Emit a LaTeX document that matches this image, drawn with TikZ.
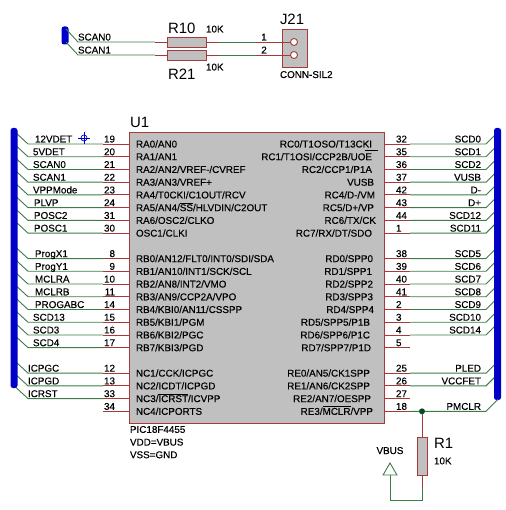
\documentclass[tikz,border=0pt]{standalone}
\usepackage{amsmath,amssymb}
\usepackage{fontspec}
\setmainfont{Liberation Sans}
\newfontfamily\pinfont[FakeBold=0.25]{Liberation Sans}
\usetikzlibrary{positioning,calc,shapes.geometric}
\definecolor{PinRed}{HTML}{A53A3A}
\definecolor{NetGreen}{HTML}{3C7C46}
\definecolor{JctGreen}{HTML}{0A4A20}
\definecolor{BusBlue}{HTML}{0000C8}
\definecolor{Body}{HTML}{C0C0C0}
\newcommand{\ovl}[1]{$\overline{\mbox{#1}}$}

\begin{document}
\begin{tikzpicture}[x=1bp, y=-1bp,
  small/.style={inner sep=0pt, outer sep=0pt, text height=7bp, text depth=0pt, font=\pinfont\fontsize{9.9}{11}\selectfont},
  large/.style={inner sep=0pt, outer sep=0pt, text height=10.5bp, text depth=0pt, font=\fontsize{15}{17}\selectfont},
  part/.style={draw=PinRed, fill=Body, line width=0.9pt, inner sep=0pt, outer sep=0pt},
  bus/.style={fill=BusBlue, rounded corners=2.5bp, inner sep=0pt, outer sep=0pt, minimum width=7bp},
  pin/.style={draw=PinRed, line width=0.9pt},
  net/.style={draw=NetGreen, line width=0.9pt} ]

\useasboundingbox (0,0) rectangle (506,510);

\node[part, minimum width=255bp, minimum height=291bp] (U1) at (256.5,277.5) {};
\node[large, anchor=south west] (U1lab) at ($(U1.north west)+(1,-4)$) {U1};
\node[inner sep=0pt, outer sep=0pt, anchor=north west, align=left, font=\pinfont\fontsize{9.9}{12.7}\selectfont] (U1info) at ($(U1.south west)+(1,3)$) {PIC18F4455\\VDD=VBUS\\VSS=GND};

\foreach \k/\num/\nx/\netlab/\lab in {
  0/19/7/12VDET/{RA0/AN0}, 1/20/5/5VDET/{RA1/AN1}, 2/21/5/SCAN0/{RA2/AN2/VREF-/CVREF}, 3/22/5/SCAN1/{RA3/AN3/VREF+},
  4/23/5/VPPMode/{RA4/T0CKI/C1OUT/RCV}, 5/24/6/PLVP/{RA5/AN4/\ovl{SS}/HLVDIN/C2OUT}, 6/31/6/POSC2/{RA6/OSC2/CLKO}, 7/30/6/POSC1/{OSC1/CLKI},
  9/8/7/ProgX1/{RB0/AN12/FLT0/INT0/SDI/SDA}, 10/9/7/ProgY1/{RB1/AN10/INT1/SCK/SCL}, 11/10/7/MCLRA/{RB2/AN8/INT2/VMO}, 12/11/7/MCLRB/{RB3/AN9/CCP2A/VPO},
  13/14/7/PROGABC/{RB4/KBI0/AN11/CSSPP}, 14/15/5/SCD13/{RB5/KBI1/PGM}, 15/16/5/SCD3/{RB6/KBI2/PGC}, 16/17/5/SCD4/{RB7/KBI3/PGD},
  18/12/0/ICPGC/{NC1/CCK/ICPGC}, 19/13/0/ICPGD/{NC2/ICDT/ICPGD}, 20/33/0/ICRST/{NC3/\ovl{ICRST}/ICVPP}} {
  \coordinate (la\k) at ($(U1.north west)+(0,12+\k*12.73)$);
  \coordinate (lb\k) at ($(la\k)+(-26,0)$);
  \coordinate (lc\k) at ($(la\k)+(-101,0)$);
  \coordinate (ld\k) at ($(lc\k)+(-13,-12)$);
  \draw[pin] (la\k) -- (lb\k);
  \draw[net] (lb\k) -- (lc\k) -- (ld\k);
  \node[small, anchor=south east] (lnum\k) at ($(lb\k)+(12,-1.5)$) {\num};
  \node[small, anchor=south west] (lnet\k) at ($(lc\k)+(\nx,-1.5)$) {\netlab};
  \node[small, anchor=west] (llab\k) at ($(la\k)+(7,0)$) {\lab};
}
\coordinate (la21) at ($(U1.north west)+(0,12+21*12.73)$);
\coordinate (lb21) at ($(la21)+(-26,0)$);
\draw[pin] (la21) -- (lb21);
\node[small, anchor=south east] (lnum21) at ($(lb21)+(12,-1.5)$) {34};
\node[small, anchor=west] (llab21) at ($(la21)+(7,0)$) {NC4/ICPORTS};

\foreach \k/\num/\netlab/\lab/\ex in {
  0/32/SCD0/{RC0/T1OSO/T13CKI}/12, 1/35/SCD1/{RC1/T1OSI/CCP2B/UOE}/12, 2/36/SCD2/{RC2/CCP1/P1A}/12, 3/37/VUSB/VUSB/10,
  4/42/D-/{RC4/D-/VM}/9, 5/43/D+/{RC5/D+/VP}/10, 6/44/SCD12/{RC6/TX/CK}/8, 7/1/SCD11/{RC7/RX/DT/SDO}/12,
  9/38/SCD5/{RD0/SPP0}/11, 10/39/SCD6/{RD1/SPP1}/12, 11/40/SCD7/{RD2/SPP2}/11, 12/41/SCD8/{RD3/SPP3}/11,
  13/2/SCD9/{RD4/SPP4}/10, 14/3/SCD10/{RD5/SPP5/P1B}/14, 15/4/SCD14/{RD6/SPP6/P1C}/14,
  18/25/PLED/{RE0/AN5/CK1SPP}/14, 19/26/VCCFET/{RE1/AN6/CK2SPP}/14} {
  \coordinate (ra\k) at ($(U1.north east)+(0,12+\k*12.73)$);
  \coordinate (rb\k) at ($(ra\k)+(26,0)$);
  \coordinate (rc\k) at ($(ra\k)+(102,0)$);
  \coordinate (rd\k) at ($(rc\k)+(12,-12)$);
  \draw[pin] (ra\k) -- (rb\k);
  \draw[net] (rb\k) -- (rc\k) -- (rd\k);
  \node[small, anchor=south west] (rnum\k) at ($(rb\k)+(-14,-1.5)$) {\num};
  \node[small, anchor=south east] (rnet\k) at ($(rc\k)+(-5,-1.5)$) {\netlab};
  \node[small, anchor=east] (rlab\k) at ($(ra\k)+(-\ex,0)$) {\lab};
}
\foreach \k/\num/\lab/\ex in {16/5/{RD7/SPP7/P1D}/13, 20/27/{RE2/AN7/OESPP}/13, 21/18/{RE3/\ovl{MCLR}/VPP}/11} {
  \coordinate (ra\k) at ($(U1.north east)+(0,12+\k*12.73)$);
  \coordinate (rb\k) at ($(ra\k)+(26,0)$);
  \draw[pin] (ra\k) -- (rb\k);
  \node[small, anchor=south west] (rnum\k) at ($(rb\k)+(-14,-1.5)$) {\num};
  \node[small, anchor=east] (rlab\k) at ($(ra\k)+(-\ex,0)$) {\lab};
}
\draw[line width=0.6pt] ($(U1.north east)+(-19,18)$) coordinate (uoea) -- ($(U1.north east)+(-6,18)$) coordinate (uoeb);

\node[bus, minimum height=260bp] (lbus) at (14,258) {};
\node[bus, minimum height=272bp] (rbus) at (497.5,264) {};

\coordinate (rc21) at ($(ra21)+(102,0)$);
\coordinate (rd21) at ($(rc21)+(12,-12)$);
\node[circle, fill=JctGreen, minimum size=6bp, inner sep=0pt, outer sep=0pt] (jct) at ($(ra21)+(38,0)$) {};
\draw[net] (rb21) -- (jct) -- (rc21) -- (rd21);
\node[small, anchor=south east] (rnet21) at ($(rc21)+(-5,-1.5)$) {PMCLR};

\node[part, minimum width=10bp, minimum height=38bp, below=23bp of jct] (R1) {};
\node[large, anchor=north west] (R1lab) at ($(R1.north east)+(7,1)$) {R1};
\node[small, anchor=north west] (R1val) at ($(R1.north east)+(7,20)$) {10K};
\coordinate (R1end) at ($(R1.south)+(0,13)$);
\node[regular polygon, regular polygon sides=3, draw=NetGreen, line width=0.9pt, minimum size=16bp, inner sep=0pt, outer sep=0pt] (vbus) at (390,471) {};
\node[small, above=9bp of vbus] (vbuslab) {VBUS};
\draw[pin] (jct) -- (R1.north);
\draw[pin] (R1.south) -- (R1end);
\draw[net] (R1end) |- ($(R1end)+(-16,12)$) -| (vbus.south);

\node[bus, minimum height=18bp] (sbus) at (65,35.5) {};
\node[part, minimum width=39bp, minimum height=10bp] (R10) at (186.5,42) {};
\node[part, minimum width=39bp, minimum height=10bp] (R21) at (186.5,55) {};
\node[part, minimum width=25bp, minimum height=38bp] (J21) at (294.5,48) {};
\node[circle, draw=PinRed, fill=white, line width=0.9pt, minimum size=7bp, inner sep=0pt, outer sep=0pt] (J1) at (294,42) {};
\node[circle, draw=PinRed, fill=white, line width=0.9pt, minimum size=7bp, inner sep=0pt, outer sep=0pt] (J2) at (294,55) {};

\foreach \r/\j/\netlab/\num in {R10/J1/SCAN0/1, R21/J2/SCAN1/2} {
  \coordinate (\r a) at ($(\r.west)+(-12,0)$);
  \coordinate (\r b) at ($(\r.west)+(-89,0)$);
  \coordinate (\r c) at ($(\r.east)+(13,0)$);
  \coordinate (\r d) at ($(\r.east)+(50,0)$);
  \draw[pin] (\r.west) -- (\r a);
  \draw[net] (\r a) -- (\r b) -- ($(\r b)+(-12,-13)$);
  \draw[pin] (\r.east) -- (\r c);
  \draw[net] (\r c) -- (\r d);
  \draw[pin] (\r d) -- (\j);
  \node[small, anchor=south west] (\r net) at ($(\r b)+(0,-1.5)$) {\netlab};
  \node[small, anchor=south] (\r num) at ($(\r d)+(8,-1.5)$) {\num};
}
\node[large, anchor=south west] (R10lab) at ($(R10.north west)+(1,-3)$) {R10};
\node[small, anchor=west] (R10val) at ($(R10.north east)+(0,-8)$) {10K};
\node[large, anchor=north west] (R21lab) at ($(R21.south west)+(1,9)$) {R21};
\node[small, anchor=west] (R21val) at ($(R21.south east)+(0,7)$) {10K};
\node[large, anchor=south west] (J21lab) at ($(J21.north west)+(-2,-4)$) {J21};
\node[small, anchor=north west] (J21val) at ($(J21.south west)+(-2,4)$) {CONN-SIL2};

\node[circle, draw=BusBlue, minimum size=6bp, inner sep=0pt, line width=0.7pt] (probe) at (84,138) {};
\draw[BusBlue, line width=0.7pt] ($(probe)+(-6,0)$) -- ($(probe)+(6,0)$);
\draw[BusBlue, line width=0.7pt] ($(probe)+(0,-6)$) -- ($(probe)+(0,6)$);

\end{tikzpicture}
\end{document}
